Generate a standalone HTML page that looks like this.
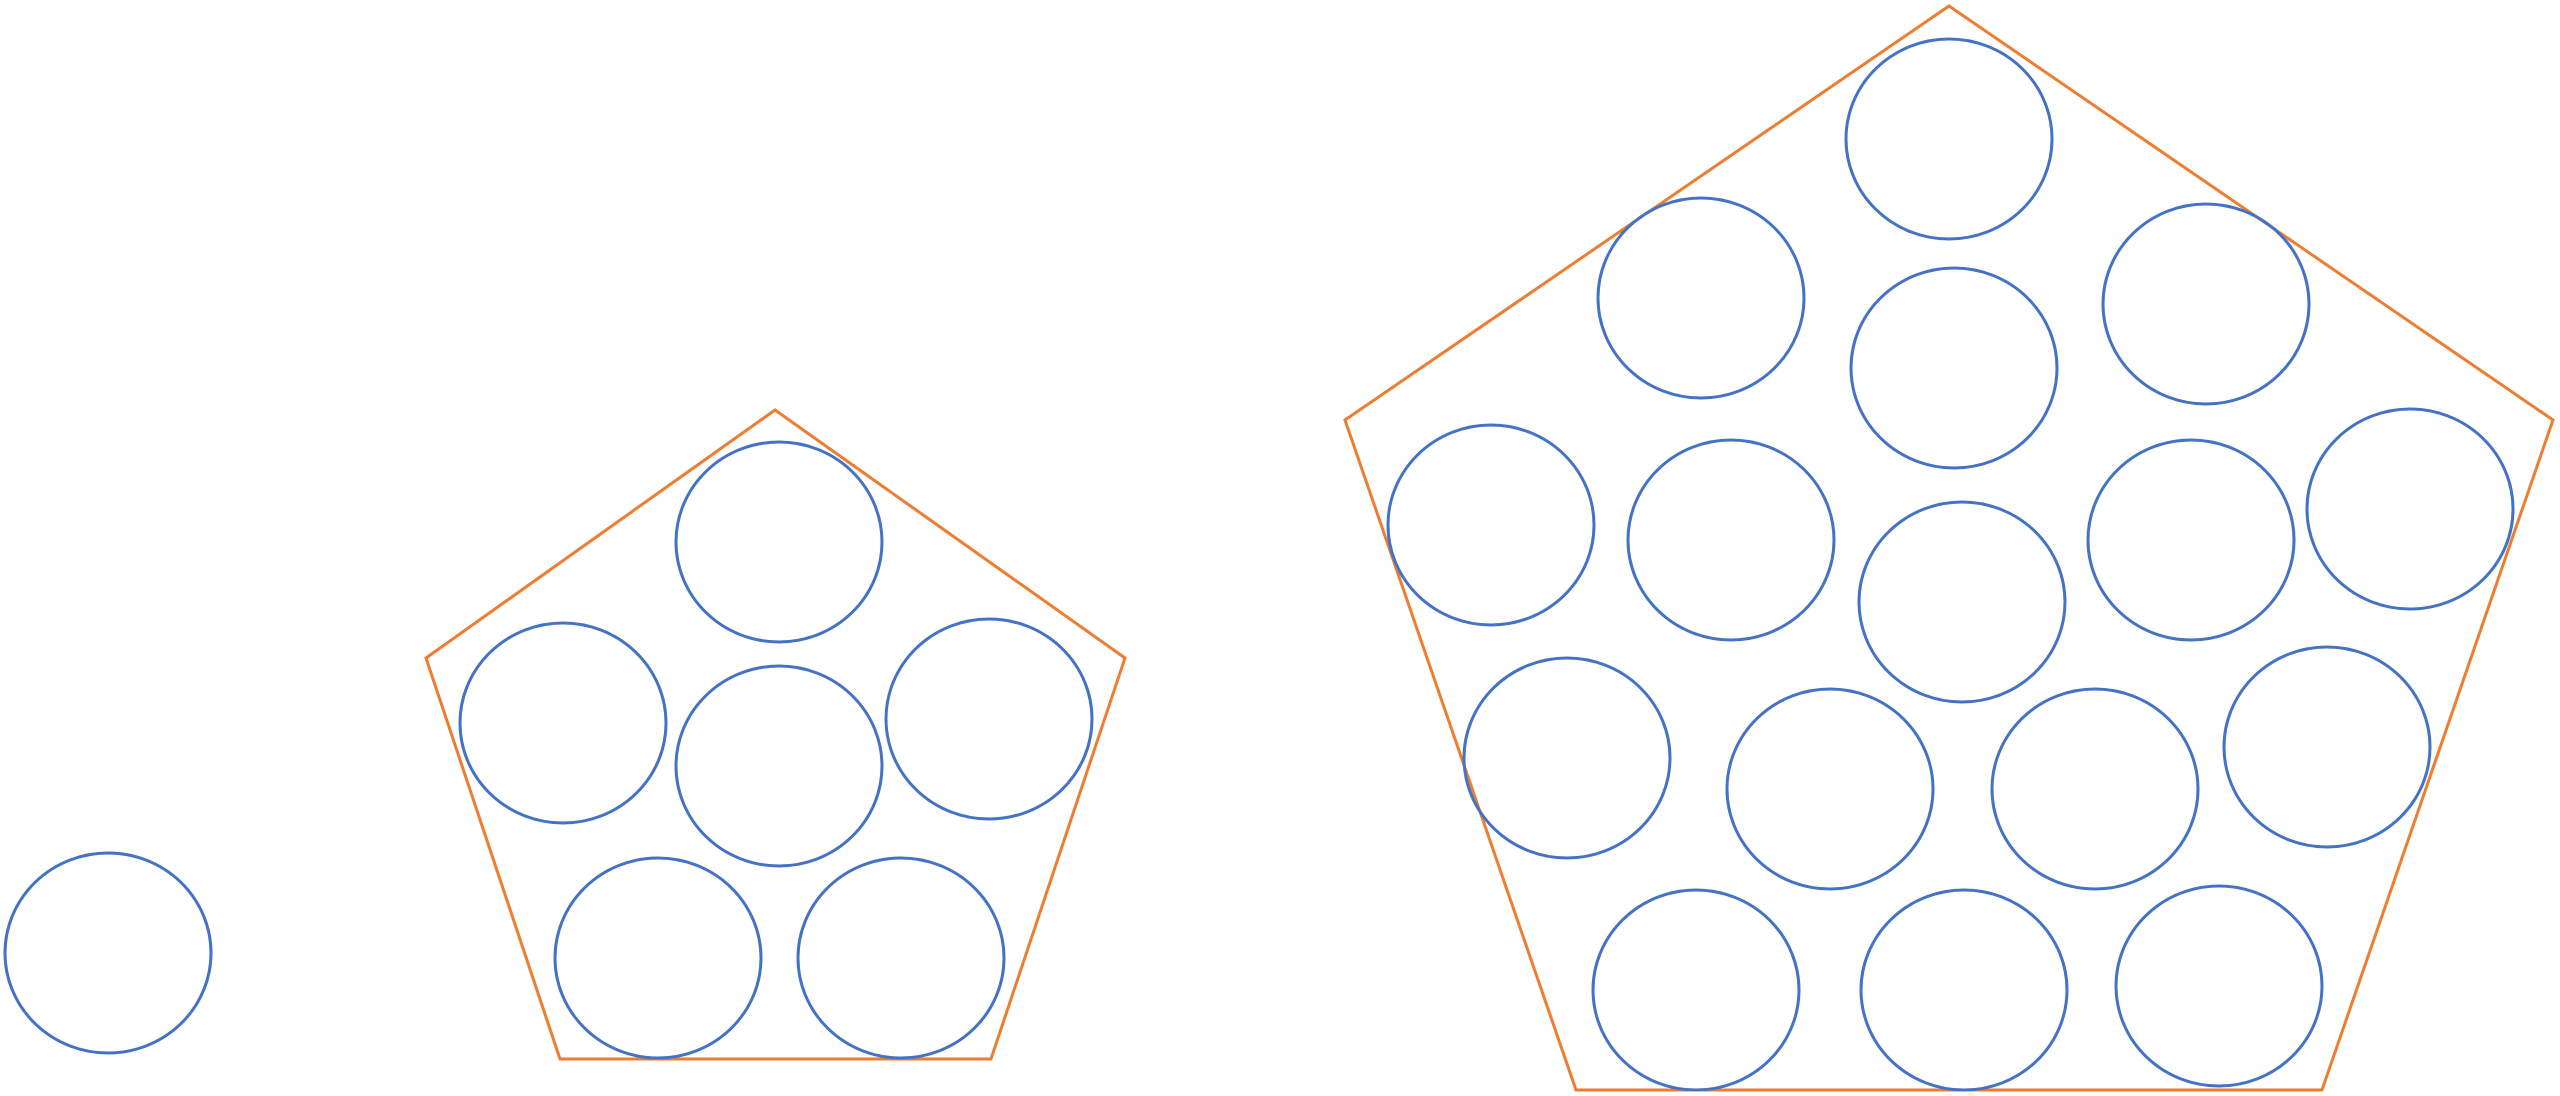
<!DOCTYPE html>
<html><head><style>html,body{margin:0;padding:0;background:#fff;}svg{display:block;}</style></head>
<body>
<svg width="2560" height="1096" viewBox="0 0 2560 1096" xmlns="http://www.w3.org/2000/svg">
<g fill="none" stroke="#ED7D31" stroke-width="3">
<polygon points="775,410 1125,658 991,1059 560,1059 426,658"/>
<polygon points="1949,6 2553,420 2322,1090 1576,1090 1345,420"/>
</g>
<g fill="none" stroke="#4472C4" stroke-width="3">
<ellipse cx="108" cy="953" rx="103" ry="100"/>
<ellipse cx="779" cy="542" rx="103" ry="100"/>
<ellipse cx="563" cy="723" rx="103" ry="100"/>
<ellipse cx="779" cy="766" rx="103" ry="100"/>
<ellipse cx="989" cy="719" rx="103" ry="100"/>
<ellipse cx="658" cy="958" rx="103" ry="100"/>
<ellipse cx="901" cy="958" rx="103" ry="100"/>
<ellipse cx="1949" cy="139" rx="103" ry="100"/>
<ellipse cx="1701" cy="298" rx="103" ry="100"/>
<ellipse cx="2206" cy="304" rx="103" ry="100"/>
<ellipse cx="1954" cy="368" rx="103" ry="100"/>
<ellipse cx="1491" cy="525" rx="103" ry="100"/>
<ellipse cx="1731" cy="540" rx="103" ry="100"/>
<ellipse cx="1962" cy="602" rx="103" ry="100"/>
<ellipse cx="2191" cy="540" rx="103" ry="100"/>
<ellipse cx="2410" cy="509" rx="103" ry="100"/>
<ellipse cx="1567" cy="758" rx="103" ry="100"/>
<ellipse cx="1830" cy="789" rx="103" ry="100"/>
<ellipse cx="2095" cy="789" rx="103" ry="100"/>
<ellipse cx="2327" cy="747" rx="103" ry="100"/>
<ellipse cx="1696" cy="990" rx="103" ry="100"/>
<ellipse cx="1964" cy="990" rx="103" ry="100"/>
<ellipse cx="2219" cy="986" rx="103" ry="100"/>
</g>
</svg>
</body></html>
